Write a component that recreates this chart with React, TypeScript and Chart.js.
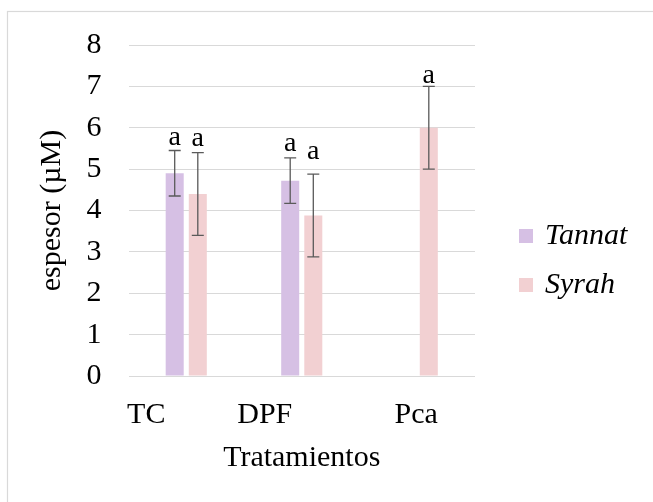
import { useEffect, useRef } from 'react';
import { Chart, registerables } from 'chart.js';

Chart.register(...registerables);

// Treatments and measured thickness per grape variety
const categories = ['TC', 'DPF', 'Pca'];
const tannatValues: (number | null)[] = [4.9, 4.72, null];
const tannatErrors: (number | null)[] = [0.55, 0.55, null];
const syrahValues: (number | null)[] = [4.4, 3.88, 6.0];
const syrahErrors: (number | null)[] = [1.0, 1.0, 1.0];
// Significance letters shown above each bar
const tannatLetters: (string | null)[] = ['a', 'a', null];
const syrahLetters: (string | null)[] = ['a', 'a', 'a'];
const seriesNames = ['Tannat', 'Syrah'];
const yAxisTitle = 'espesor (µM)';
const xAxisTitle = 'Tratamientos';

const SERIF = "'Liberation Serif', 'Times New Roman', serif";
const TANNAT_COLOR = '#D6C0E4';
const SYRAH_COLOR = '#F2D0D2';
const GRID_COLOR = '#d9d9d9';

const errorSets = [tannatErrors, syrahErrors];
const letterSets = [tannatLetters, syrahLetters];
// gap (px) between the top error cap and each letter's baseline
const letterGaps = [
  [6, 7, 0],
  [7, 15, 3],
];
// horizontal nudge of the category labels (px)
const labelShift = [-40, -37, -1];

const framePlugin = {
  id: 'frame',
  beforeDraw(chart: any) {
    const { ctx } = chart;
    ctx.save();
    ctx.fillStyle = '#ffffff';
    ctx.fillRect(0, 0, chart.width, chart.height);
    ctx.strokeStyle = GRID_COLOR;
    ctx.lineWidth = 1.2;
    ctx.strokeRect(7.5, 11.5, chart.width + 20, chart.height + 20);
    ctx.restore();
  },
};

const errorBarPlugin = {
  id: 'errorBars',
  afterDatasetsDraw(chart: any) {
    const { ctx } = chart;
    const yScale = chart.scales.y;
    ctx.save();
    chart.data.datasets.forEach((ds: any, di: number) => {
      const meta = chart.getDatasetMeta(di);
      meta.data.forEach((bar: any, i: number) => {
        const v = ds.data[i];
        const e = errorSets[di][i];
        if (v == null || e == null) return;
        const x = bar.x;
        const yTop = yScale.getPixelForValue(v + e);
        const yBot = yScale.getPixelForValue(v - e);
        ctx.strokeStyle = '#5a5a5a';
        ctx.lineWidth = 1.3;
        ctx.beginPath();
        ctx.moveTo(x, yTop);
        ctx.lineTo(x, yBot);
        ctx.moveTo(x - 6, yTop);
        ctx.lineTo(x + 6, yTop);
        ctx.moveTo(x - 6, yBot);
        ctx.lineTo(x + 6, yBot);
        ctx.stroke();
        const letter = letterSets[di][i];
        if (letter) {
          ctx.fillStyle = '#000000';
          ctx.font = `28px ${SERIF}`;
          ctx.textAlign = 'center';
          ctx.textBaseline = 'alphabetic';
          ctx.fillText(letter, x, yTop - letterGaps[di][i]);
        }
      });
    });
    ctx.restore();
  },
};

const categoryLabelPlugin = {
  id: 'categoryLabels',
  afterDraw(chart: any) {
    const { ctx, chartArea } = chart;
    const xScale = chart.scales.x;
    ctx.save();
    ctx.fillStyle = '#000000';
    ctx.font = `30px ${SERIF}`;
    ctx.textAlign = 'center';
    ctx.textBaseline = 'middle';
    chart.data.labels.forEach((label: string, i: number) => {
      const x = xScale.getPixelForValue(i) + labelShift[i];
      ctx.fillText(label, x, chartArea.bottom + 39);
    });
    ctx.restore();
  },
};

const legendPlugin = {
  id: 'sideLegend',
  afterDraw(chart: any) {
    const { ctx } = chart;
    const rows = [236, 285];
    ctx.save();
    chart.data.datasets.forEach((ds: any, di: number) => {
      const cy = rows[di];
      ctx.fillStyle = ds.backgroundColor;
      ctx.fillRect(519, cy - 7, 14, 14);
      ctx.fillStyle = '#000000';
      ctx.font = `italic 30px ${SERIF}`;
      ctx.textAlign = 'left';
      ctx.textBaseline = 'middle';
      ctx.fillText(ds.label, 545, cy);
    });
    ctx.restore();
  },
};

export default function App() {
  const canvasRef = useRef<HTMLCanvasElement | null>(null);

  useEffect(() => {
    if (!canvasRef.current) return;
    const chart = new Chart(canvasRef.current, {
      type: 'bar',
      data: {
        labels: categories,
        datasets: [
          {
            label: seriesNames[0],
            data: tannatValues,
            backgroundColor: TANNAT_COLOR,
            categoryPercentage: 0.4,
            barPercentage: 0.78,
          },
          {
            label: seriesNames[1],
            data: syrahValues,
            backgroundColor: SYRAH_COLOR,
            categoryPercentage: 0.4,
            barPercentage: 0.78,
          },
        ],
      },
      options: {
        responsive: false,
        animation: false,
        devicePixelRatio: 1,
        layout: { padding: { left: 0, top: 42, right: 178, bottom: 0 } },
        plugins: {
          legend: { display: false },
          tooltip: { enabled: false },
        },
        scales: {
          x: {
            grid: { display: false },
            border: { display: false },
            ticks: { display: false },
            title: {
              display: true,
              text: xAxisTitle,
              color: '#000000',
              font: { family: SERIF, size: 30 },
              padding: { top: 0, bottom: 26 },
            },
            afterFit(scale: any) {
              scale.height = 126;
            },
          },
          y: {
            min: 0,
            max: 8,
            grid: { color: GRID_COLOR, lineWidth: 1, drawTicks: false },
            border: { display: false },
            ticks: {
              stepSize: 1,
              padding: 27,
              color: '#000000',
              font: { family: SERIF, size: 30 },
            },
            title: {
              display: true,
              text: yAxisTitle,
              color: '#000000',
              font: { family: SERIF, size: 30 },
              padding: { top: 34, bottom: 0 },
            },
            afterFit(scale: any) {
              scale.width = 128.5;
            },
          },
        },
      },
      plugins: [framePlugin, errorBarPlugin, categoryLabelPlugin, legendPlugin],
    });
    return () => chart.destroy();
  }, []);

  return (
    <div style={{ position: 'absolute', left: 0, top: 0, width: 653, height: 502 }}>
      <canvas ref={canvasRef} width={653} height={502} />
    </div>
  );
}
